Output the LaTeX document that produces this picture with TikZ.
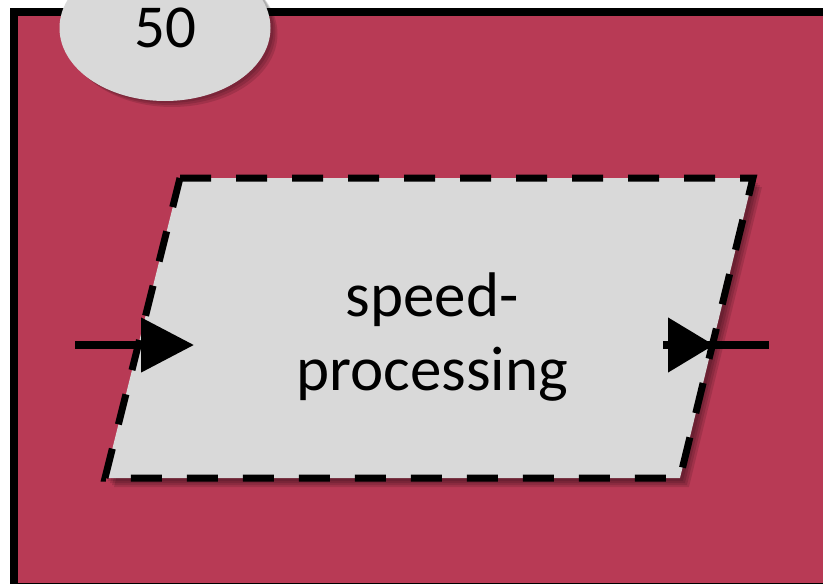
\documentclass[tikz,border=0pt]{standalone}
\usepackage{fontspec}
\setmainfont{Carlito}
\usetikzlibrary{shapes.geometric,arrows.meta}
\definecolor{crim}{HTML}{B83A55}
\definecolor{lgray}{HTML}{D9D9D9}
\tikzset{
  frameline/.style={line width=8pt, fill=crim},
  conn/.style={line width=8pt},
  dashedge/.style={line width=7pt, dash pattern=on 31pt off 25pt},
  shadowfill/.style={fill=black, opacity=0.12},
}
\begin{document}
\begin{tikzpicture}[x=1pt,y=-1pt]
\useasboundingbox (0,0) rectangle (823,584);
\clip (0,0) rectangle (823,584);
% outer frame
\draw[frameline] (14,12) rectangle (900,587);
% parallelogram corners
\coordinate (tl) at (180,178);
\coordinate (tr) at (753,178);
\coordinate (br) at (680,478);
\coordinate (bl) at (105,478);
% soft shadow
\foreach \s in {3,5,7,9}{
  \fill[shadowfill] ([shift={(\s,\s)}]tl) -- ([shift={(\s,\s)}]tr) -- ([shift={(\s,\s)}]br) -- ([shift={(\s,\s)}]bl) -- cycle;
}
\fill[lgray] (tl) -- (tr) -- (br) -- (bl) -- cycle;
\draw[dashedge] (tl) -- (tr) -- (br) -- (bl) -- cycle;
\node[align=center, font=\fontsize{63}{74}\selectfont] (proc) at (432,337) {speed-\\processing};
% arrows
\coordinate (inL) at (75,345);
\coordinate (tipL) at (194,345);
\coordinate (outS) at (663,345);
\coordinate (tipR) at (714,345);
\coordinate (endR) at (769,345);
\draw[conn, -{Triangle[length=53pt,width=53pt]}] (inL) -- (tipL);
\draw[conn] (outS) -- (endR);
\draw[conn, -{Triangle[length=46pt,width=53pt]}] (outS) -- (tipR);
% ellipse label with shadow
\foreach \s in {3,5,7}{
  \fill[shadowfill] (165+\s,27+\s) ellipse [x radius=105.5, y radius=73];
}
\node[ellipse, fill=lgray, minimum width=211pt, minimum height=146pt, inner sep=0pt, font=\fontsize{61}{72}\selectfont] (num) at (165,28) {50};
\end{tikzpicture}
\end{document}
